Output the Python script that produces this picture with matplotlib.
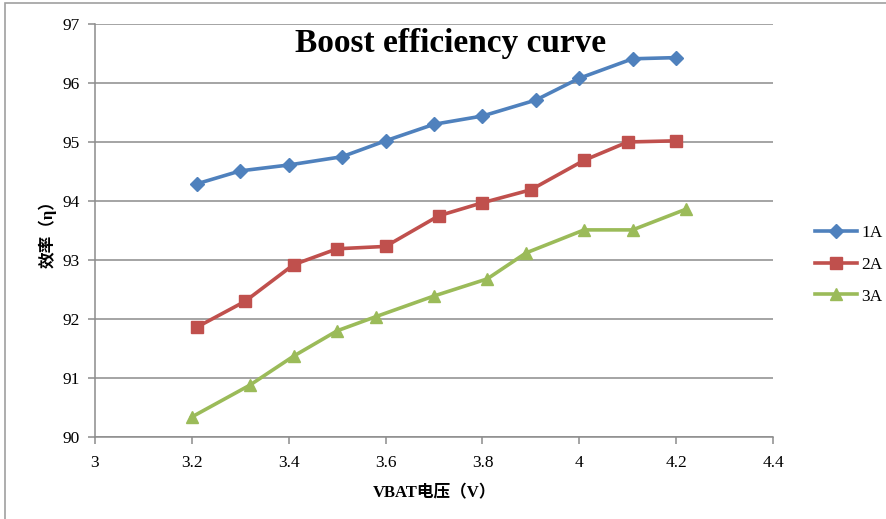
import matplotlib
matplotlib.use('Agg')
from matplotlib import pyplot as plt
from matplotlib.patches import Rectangle

# data
x_1a = [3.21, 3.30, 3.40, 3.51, 3.60, 3.70, 3.80, 3.91, 4.00, 4.11, 4.20]
y_1a = [94.29, 94.51, 94.61, 94.75, 95.02, 95.30, 95.44, 95.71, 96.08, 96.41, 96.43]
x_2a = [3.21, 3.31, 3.41, 3.50, 3.60, 3.71, 3.80, 3.90, 4.01, 4.10, 4.20]
y_2a = [91.86, 92.30, 92.92, 93.19, 93.23, 93.75, 93.97, 94.19, 94.69, 95.00, 95.02]
x_3a = [3.20, 3.32, 3.41, 3.50, 3.58, 3.70, 3.81, 3.89, 4.01, 4.11, 4.22]
y_3a = [90.34, 90.88, 91.37, 91.80, 92.04, 92.39, 92.68, 93.12, 93.51, 93.51, 93.86]

labels = ['1A', '2A', '3A']
colors = ['#4F81BD', '#C0504D', '#9BBB59']
markers = ['D', 's', '^']

serif = ['Liberation Serif', 'DejaVu Serif']
cjk = ['Liberation Serif', 'Noto Sans CJK SC']

fig = plt.figure(figsize=(8.86, 5.19), dpi=100)
ax = fig.add_axes([0.1072, 0.158, 0.7653, 0.7958])

# outer frame of the chart
fig.patches.append(Rectangle((0.006, -0.01), 1.1, 1.004, transform=fig.transFigure,
                             fill=False, edgecolor='#A0A0A0', linewidth=1.2))

series = [(x_1a, y_1a), (x_2a, y_2a), (x_3a, y_3a)]
msizes = [7, 8, 9]
for (xs, ys), lab, c, m, ms in zip(series, labels, colors, markers, msizes):
    ax.plot(xs, ys, color=c, marker=m, markersize=ms, linewidth=2.6, label=lab,
            markeredgecolor=c)

ax.set_xlim(3, 4.4)
ax.set_ylim(90, 97)
ax.set_xticks([3, 3.2, 3.4, 3.6, 3.8, 4, 4.2, 4.4])
ax.set_xticklabels(['3', '3.2', '3.4', '3.6', '3.8', '4', '4.2', '4.4'])
ax.set_yticks(range(90, 98))

for lbl in ax.get_xticklabels() + ax.get_yticklabels():
    lbl.set_fontfamily(serif)
    lbl.set_fontsize(12.5)

ax.grid(axis='y', color='#8C8C8C', linewidth=1.1)
ax.set_axisbelow(True)
for s in ['top', 'right']:
    ax.spines[s].set_visible(False)
ax.spines['left'].set_color('#8C8C8C')
ax.spines['bottom'].set_color('#8C8C8C')
ax.spines['left'].set_linewidth(1.1)
ax.spines['bottom'].set_linewidth(1.1)
ax.tick_params(axis='both', color='#8C8C8C', length=5, width=1.1)
ax.tick_params(axis='x', pad=8)
ax.tick_params(axis='y', pad=6)

ax.text(0.525, 0.99, 'Boost efficiency curve', transform=ax.transAxes, ha='center', va='top',
        fontfamily=serif, fontsize=24, fontweight='bold')
ax.set_xlabel('VBAT电压（V）', fontfamily=cjk, fontsize=12, fontweight='bold', labelpad=10)
ax.set_ylabel('效率（η）', fontfamily=cjk, fontsize=12, fontweight='bold', labelpad=4)

leg = fig.legend(loc='center left', bbox_to_anchor=(0.92, 0.49), frameon=False,
                 prop={'family': serif, 'size': 12.5}, handlelength=2.4,
                 labelspacing=0.9, handletextpad=0.25, borderaxespad=0, borderpad=0)

fig.savefig('out.png', dpi=100)
